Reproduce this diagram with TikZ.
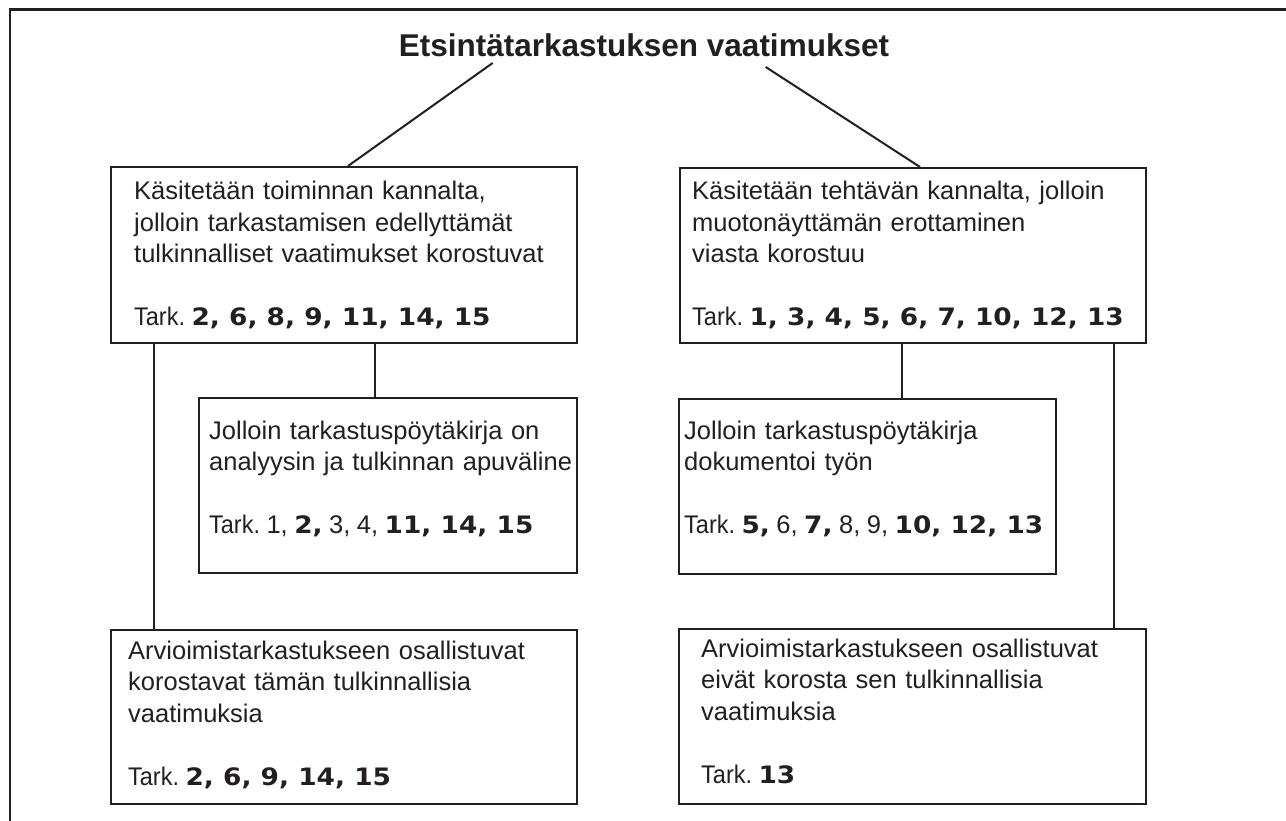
\documentclass[tikz,border=0pt]{standalone}
\usepackage{fontspec}
\setmainfont{Liberation Sans}
\newfontfamily\numfont[FakeStretch=1.1]{DejaVu Sans}
\newfontfamily\tarkfont[FakeStretch=0.92]{Liberation Sans}
\usetikzlibrary{positioning, calc}
\definecolor{ink}{HTML}{231F20}
\frenchspacing
\newcommand{\nb}[1]{{\spaceskip=0pt\relax\numfont\bfseries\fontsize{24}{31.5}\selectfont #1}}
\newcommand{\tark}{\spaceskip=6.5pt\relax{\tarkfont Tark.}}

\begin{document}
\begin{tikzpicture}[
        x=1pt, y=-1pt,
        box/.style={draw=ink, line width=2pt, anchor=north west, inner sep=0pt},
        txt/.style={anchor=base west, align=left, text width=480pt, inner sep=0pt, text=ink, font=\fontsize{25.5}{31.5}\selectfont},
        ttl/.style={anchor=base, inner sep=0pt, text=ink, font=\bfseries\fontsize{31.5}{36}\selectfont},
        conn/.style={draw=ink, line width=2pt},
        rim/.style={draw=ink, line width=2.6pt}
    ]
        \useasboundingbox (0,0) rectangle (1286,821);
        \draw[rim] (10,821) -- (10,9.5) -- (1286,9.5);

        % --- Otsikko ---
        \node[ttl] (title) at (644,57) {Etsintätarkastuksen vaatimukset};

        % --- Laatikot ---
        \node[box, minimum width=466, minimum height=176] (kt) at (110,166) {};
        \node[box, minimum width=466, minimum height=175] (kh) at ($(kt.north east)+(101,1)$) {};
        \node[box, minimum width=378, minimum height=175, anchor=north east] (pa) at ($(kt.south east)+(0,53)$) {};
        \node[box, minimum width=377, minimum height=175] (pd) at ($(kh.south west)+(-1,54)$) {};
        \node[box, minimum width=466, minimum height=174] (ak) at ($(kt.south west)+(0,285)$) {};
        \node[box, minimum width=467, minimum height=175] (ae) at ($(kh.south west)+(-1,284)$) {};

        % --- Tekstit ---
        \node[txt] (kt-t) at ($(kt.north west)+(24,34)$) {Käsitetään toiminnan kannalta,\\jolloin tarkastamisen edellyttämät\\tulkinnalliset vaatimukset korostuvat\\[31.5pt]\tark{} \nb{2, 6, 8, 9, 11, 14, 15}};
        \node[txt] (kh-t) at ($(kh.north west)+(13,33)$) {Käsitetään tehtävän kannalta, jolloin\\muotonäyttämän erottaminen\\viasta korostuu\\[31.5pt]\tark{} \nb{1, 3, 4, 5, 6, 7, 10, 12, 13}};
        \node[txt] (pa-t) at ($(pa.north west)+(11,42)$) {Jolloin tarkastuspöytäkirja on\\analyysin ja tulkinnan apuväline\\[31.5pt]\tark{} 1, \nb{2,} 3, 4, \nb{11, 14, 15}};
        \node[txt] (pd-t) at ($(pd.north west)+(6,41)$) {Jolloin tarkastuspöytäkirja\\dokumentoi työn\\[31.5pt]\tark{} \nb{5,} 6, \nb{7,} 8, 9, \nb{10, 12, 13}};
        \node[txt] (ak-t) at ($(ak.north west)+(18,30)$) {Arvioimistarkastukseen osallistuvat\\korostavat tämän tulkinnallisia\\vaatimuksia\\[31.5pt]\tark{} \nb{2, 6, 9, 14, 15}};
        \node[txt] (ae-t) at ($(ae.north west)+(23,29)$) {Arvioimistarkastukseen osallistuvat\\eivät korosta sen tulkinnallisia\\vaatimuksia\\[31.5pt]\tark{} \nb{13}};

        % --- Yhteydet ---
        \draw[conn] ($(title.base west)+(94,6)$) -- ($(kt.north west)+(238,0)$);
        \draw[conn] ($(title.base west)+(367,10)$) -- ($(kh.north west)+(241,0)$);
        \draw[conn] ($(kt.south west)+(44,0)$) coordinate (a1) -- (a1 |- ak.north);
        \draw[conn] ($(kt.south west)+(265,0)$) coordinate (a2) -- (a2 |- pa.north);
        \draw[conn] ($(kh.south west)+(223,0)$) coordinate (b1) -- (b1 |- pd.north);
        \draw[conn] ($(kh.south west)+(435,0)$) coordinate (b2) -- (b2 |- ae.north);
    \end{tikzpicture}
\end{document}
